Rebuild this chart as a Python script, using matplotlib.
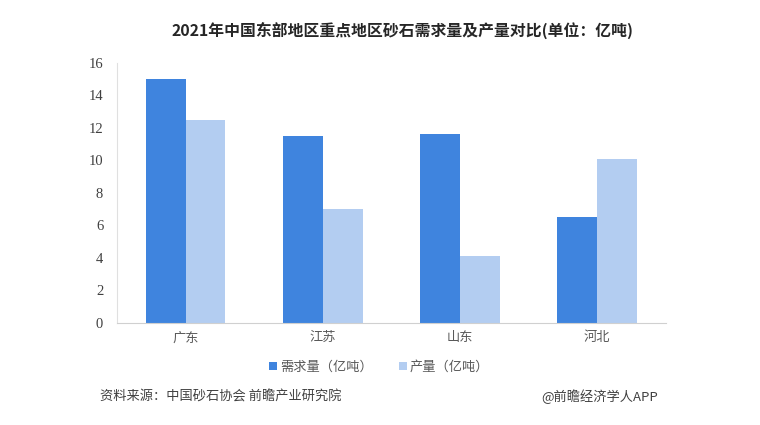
import matplotlib.pyplot as plt
import numpy as np

plt.rcParams['font.family'] = ['Noto Sans CJK SC', 'DejaVu Sans']

regions = ['广东', '江苏', '山东', '河北']
demand = [15.0, 11.5, 11.6, 6.5]
output = [12.5, 7.0, 4.1, 10.1]
yticks = [0, 2, 4, 6, 8, 10, 12, 14, 16]

c_demand = '#3f84de'
c_output = '#b3cdf1'

fig = plt.figure(figsize=(7.6, 4.25), dpi=100)
ax = fig.add_axes([0.154, 0.24, 0.722, 0.612])

x = np.arange(len(regions))
w = 0.29
ax.bar(x - w / 2, demand, w, color=c_demand, label='需求量（亿吨）')
ax.bar(x + w / 2, output, w, color=c_output, label='产量（亿吨）')

ax.set_xlim(-0.5, len(regions) - 0.5)
ax.set_ylim(0, 16)
ax.set_yticks(yticks)
ax.set_yticklabels([str(t) for t in yticks], family='Liberation Serif', fontsize=10.5, color='#404040')
ax.set_xticks(x)
ax.set_xticklabels(regions, fontsize=9.5, color='#595959')
ax.tick_params(length=0)
ax.tick_params(axis='y', pad=10)
ax.tick_params(axis='x', pad=6)

for s in ['top', 'right']:
    ax.spines[s].set_visible(False)
ax.spines['left'].set_color('#e0e0e0')
ax.spines['bottom'].set_color('#d0d0d0')

fig.text(0.529, 0.928, '2021年中国东部地区重点地区砂石需求量及产量对比(单位：亿吨)',
         ha='center', va='center', fontsize=11.4, fontweight='bold', color='#262626')

ax.legend(loc='center', bbox_to_anchor=(0.499, 0.136), bbox_transform=fig.transFigure,
          ncol=2, frameon=False, fontsize=9.5, handlelength=0.6, handleheight=0.6,
          handletextpad=0.2, columnspacing=2.0, labelcolor='#595959')

fig.text(0.132, 0.066, '资料来源：中国砂石协会 前瞻产业研究院', ha='left', va='center',
         fontsize=9.5, color='#404040')
fig.text(0.866, 0.066, '@前瞻经济学人APP', ha='right', va='center',
         fontsize=9.5, color='#404040')

fig.savefig('out.png', dpi=100)
